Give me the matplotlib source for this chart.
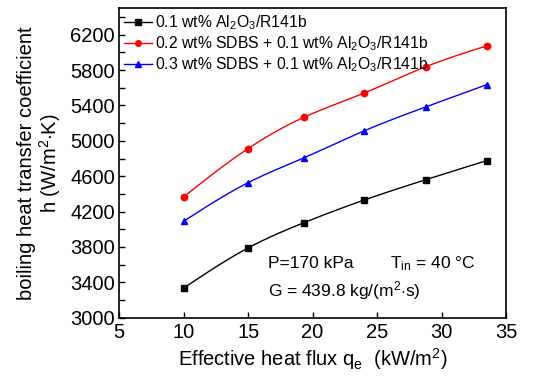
import numpy as np
import matplotlib
matplotlib.use("Agg")
import matplotlib.pyplot as plt
from matplotlib.ticker import MultipleLocator

plt.rcParams['font.family'] = ['Liberation Sans', 'DejaVu Sans']
plt.rcParams['mathtext.fontset'] = 'custom'
plt.rcParams['mathtext.rm'] = 'Liberation Sans'
plt.rcParams['mathtext.it'] = 'Liberation Sans'

heat_flux = [10.0, 15.0, 19.3, 24.0, 28.8, 33.5]
h_base = [3334, 3788, 4072, 4330, 4561, 4776]
h_sdbs02 = [4367, 4913, 5265, 5541, 5840, 6075]
h_sdbs03 = [4090, 4527, 4806, 5113, 5385, 5635]

labels = [r"0.1 wt% Al$_2$O$_3$/R141b",
          r"0.2 wt% SDBS + 0.1 wt% Al$_2$O$_3$/R141b",
          r"0.3 wt% SDBS + 0.1 wt% Al$_2$O$_3$/R141b"]
colors = ["#000000", "#ff0000", "#0000ff"]
markers = ["s", "o", "^"]


def natural_spline(x, y, n=200):
    x = np.asarray(x, float)
    y = np.asarray(y, float)
    k = len(x)
    h = np.diff(x)
    A = np.zeros((k, k))
    b = np.zeros(k)
    A[0, 0] = 1
    A[-1, -1] = 1
    for i in range(1, k - 1):
        A[i, i - 1] = h[i - 1]
        A[i, i] = 2 * (h[i - 1] + h[i])
        A[i, i + 1] = h[i]
        b[i] = 3 * ((y[i + 1] - y[i]) / h[i] - (y[i] - y[i - 1]) / h[i - 1])
    c = np.linalg.solve(A, b)
    xs = np.linspace(x[0], x[-1], n)
    ys = np.empty_like(xs)
    for j, xv in enumerate(xs):
        i = min(np.searchsorted(x, xv, side='right') - 1, k - 2)
        dx = xv - x[i]
        bi = (y[i + 1] - y[i]) / h[i] - h[i] * (2 * c[i] + c[i + 1]) / 3
        di = (c[i + 1] - c[i]) / (3 * h[i])
        ys[j] = y[i] + bi * dx + c[i] * dx ** 2 + di * dx ** 3
    return xs, ys


fig = plt.figure(figsize=(5.47, 3.78), dpi=100)
ax = fig.add_axes([0.218, 0.16, 0.707, 0.818])

for ys, lab, col, mk in zip([h_base, h_sdbs02, h_sdbs03], labels, colors, markers):
    sx, sy = natural_spline(heat_flux, ys)
    ax.plot(sx, sy, color=col, lw=1.0)
    ax.plot(heat_flux, ys, linestyle='none', marker=mk, color=col, ms=4.6)
    ax.plot([], [], color=col, lw=1.0, marker=mk, ms=4, label=lab)

ax.set_xlim(5, 35)
ax.set_ylim(3000, 6500)
ax.xaxis.set_major_locator(MultipleLocator(5))
ax.yaxis.set_minor_locator(MultipleLocator(200))
ax.set_yticks(np.arange(3000, 6201, 400))
ax.tick_params(axis='both', which='both', direction='in', labelsize=14.5,
               top=False, right=False, width=1)
ax.tick_params(axis='y', which='major', length=4, pad=3)
ax.tick_params(axis='y', which='minor', length=4)
ax.tick_params(axis='x', which='major', length=4, pad=4)
for sp in ax.spines.values():
    sp.set_linewidth(1.2)

ax.set_xlabel(r"Effective heat flux q$_\mathregular{e}$  (kW/m$^2$)", fontsize=14.5, labelpad=3)
ax.set_ylabel("boiling heat transfer coefficient\n" + r"h (W/m$^{2}$$\cdot$K)",
              fontsize=14.5, labelpad=5, linespacing=1.05)

leg = ax.legend(loc='upper left', frameon=False, fontsize=11.3, handlelength=1.8,
                handletextpad=0.2, borderaxespad=0.1, borderpad=0.2,
                labelspacing=0.15)

ax.text(0.385, 0.16, "P=170 kPa", transform=ax.transAxes, fontsize=12.5)
ax.text(0.70, 0.16, r"T$_\mathregular{in}$ = 40 °C", transform=ax.transAxes, fontsize=12.5)
ax.text(0.385, 0.068, r"G = 439.8 kg/(m$^2$$\cdot$s)", transform=ax.transAxes, fontsize=12.5)

fig.savefig("out.png", dpi=100)
